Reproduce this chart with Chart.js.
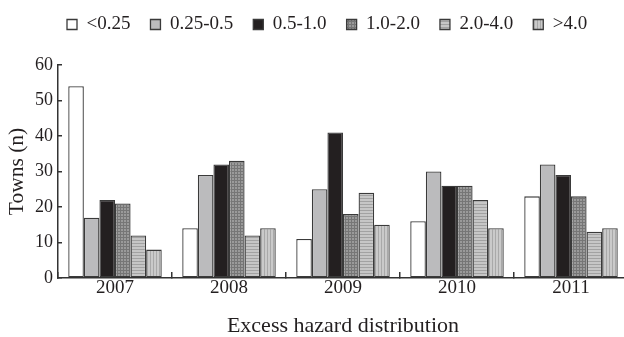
<!DOCTYPE html>
<html lang="en">
<head>
<meta charset="UTF-8">
<title>Towns by excess hazard</title>
<script src="https://cdn.jsdelivr.net/npm/chart.js"></script>
<style>
  html, body { margin: 0; padding: 0; background: #fff; overflow: hidden; }
  #wrap { width: 632px; height: 337px; }
</style>
</head>
<body>
<div id="wrap"><canvas id="towns"></canvas></div>
<script>
// data
const years = ['2007', '2008', '2009', '2010', '2011'];
const classLabels = ['<0.25', '0.25-0.5', '0.5-1.0', '1.0-2.0', '2.0-4.0', '>4.0'];
const lt025   = [54, 14, 11, 16, 23];
const r025_05 = [17, 29, 25, 30, 32];
const r05_1   = [22, 32, 41, 26, 29];
const r1_2    = [21, 33, 18, 26, 23];
const r2_4    = [12, 12, 24, 22, 13];
const gt4     = [8, 14, 15, 14, 14];
const yTicks  = [0, 10, 20, 30, 40, 50, 60];

// small hatch fills like the printed figure
function hatch(bg, line, kind) {
  const c = document.createElement('canvas');
  c.width = 3; c.height = 3;
  const g = c.getContext('2d');
  g.fillStyle = bg; g.fillRect(0, 0, 3, 3);
  g.fillStyle = line;
  if (kind === 'h' || kind === 'x') g.fillRect(0, 0, 3, 1);
  if (kind === 'v' || kind === 'x') g.fillRect(0, 0, 1, 3);
  return g.createPattern(c, 'repeat');
}

const fills = [
  '#ffffff',
  '#bbbbbd',
  '#231f20',
  hatch('#9a9a9a', '#767676', 'x'),
  hatch('#c6c6c6', '#a2a2a2', 'h'),
  hatch('#cacaca', '#a9a9a9', 'v')
];
const series = [lt025, r025_05, r05_1, r1_2, r2_4, gt4];

const serif = 'Liberation Serif, Times New Roman, serif';
const ink = '#231f20';

const ctx = document.getElementById('towns').getContext('2d');
new Chart(ctx, {
  type: 'bar',
  data: {
    labels: years,
    datasets: series.map((d, i) => ({
      label: classLabels[i],
      data: d,
      backgroundColor: fills[i],
      borderColor: '#3a3a3a',
      borderWidth: 1.3,
      borderSkipped: false,
      categoryPercentage: 0.82,
      barPercentage: 1
    }))
  },
  options: {
    responsive: true,
    maintainAspectRatio: false,
    animation: false,
    layout: { padding: { top: 16, right: 4, bottom: 0, left: 0 } },
    plugins: {
      legend: {
        position: 'top',
        align: 'start',
        labels: {
          font: { family: serif, size: 19 },
          color: ink,
          boxWidth: 10,
          boxHeight: 10,
          padding: 20
        }
      },
      tooltip: { enabled: false }
    },
    scales: {
      x: {
        grid: { offset: true, drawOnChartArea: false, tickLength: -6, color: '#333', lineWidth: 1.5 },
        border: { color: '#333', width: 1.5 },
        ticks: { font: { family: serif, size: 19 }, color: ink, padding: 5 },
        title: {
          display: true,
          text: 'Excess hazard distribution',
          font: { family: serif, size: 22 },
          color: ink,
          padding: { top: 0, bottom: -2 }
        },
        afterFit(s) { s.height = 59; }
      },
      y: {
        min: 0,
        max: 60,
        afterBuildTicks(s) { s.ticks = yTicks.map(v => ({ value: v })); },
        grid: { drawOnChartArea: false, tickLength: -4, color: '#333', lineWidth: 1.5 },
        border: { color: '#333', width: 1.5 },
        ticks: { font: { family: serif, size: 18 }, color: ink, padding: 9 },
        title: {
          display: true,
          text: 'Towns (n)',
          font: { family: serif, size: 21.5 },
          color: ink,
          padding: { top: 4, bottom: 0 }
        },
        afterFit(s) { s.width = 58; }
      }
    }
  },
  plugins: [{
    id: 'legendShift',
    afterLayout(chart) {
      chart.legend.left += 47;
      chart.legend.top = -5;
    }
  }]
});
</script>
</body>
</html>
